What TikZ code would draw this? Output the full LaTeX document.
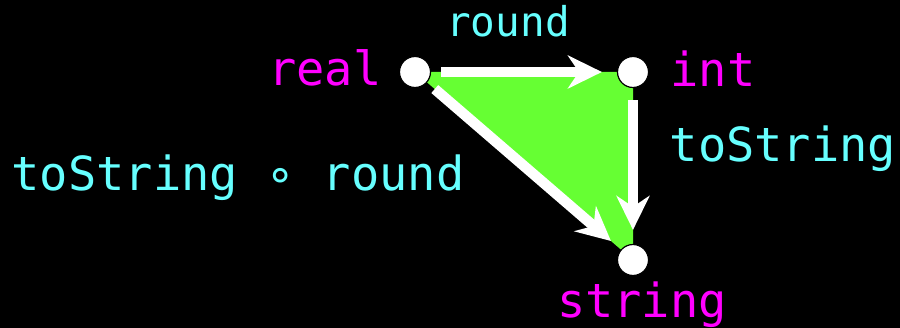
\documentclass[tikz,border=0pt]{standalone}
\usepackage{fontspec}
\setmonofont{DejaVu Sans Mono}
\usetikzlibrary{arrows.meta,backgrounds}
\definecolor{mag}{HTML}{FF00FF}
\definecolor{cy}{HTML}{66FFFF}
\definecolor{gr}{HTML}{66FF33}
\tikzset{
  dot/.style={circle,fill=white,draw=black,line width=1.2pt,minimum size=31pt,inner sep=0pt},
  typ/.style={text=mag,font=\ttfamily\fontsize{47}{56}\selectfont,anchor=base,inner sep=0pt},
  fun/.style={text=cy,font=\ttfamily\fontsize{47}{56}\selectfont,anchor=base,inner sep=0pt},
  arr/.style={white,line width=10.5pt,-{Stealth[length=34pt,width=33pt,inset=11pt]}}
}
\begin{document}
\begin{tikzpicture}[x=1pt,y=-1pt]
\useasboundingbox (0,0) rectangle (900,328);
\node[dot] (r) at (415,72) {};
\node[dot] (i) at (633,72) {};
\node[dot] (s) at (633,260) {};
\begin{scope}[on background layer]
\fill[black] (0,0) rectangle (900,328);
\fill[gr] (r.center) -- (i.center) -- (s.center) -- cycle;
\end{scope}
\draw[arr,shorten <=10pt,shorten >=15pt] (r) -- (i);
\draw[arr,shorten <=12pt,shorten >=14pt] (i) -- (s);
\draw[arr,shorten <=10pt,shorten >=13pt] (r) -- (s);
\node[typ] (lr) at (325,86) {real};
\node[typ] (li) at (713,87) {int};
\node[typ] (ls) at (642,318) {string};
\node[fun,font=\ttfamily\fontsize{41}{50}\selectfont] (lround) at (508,37) {round};
\node[fun] (lts) at (783,162) {toString};
\node[fun] (lcomp) at (238,191) {toString ∘ round};
\end{tikzpicture}
\end{document}
